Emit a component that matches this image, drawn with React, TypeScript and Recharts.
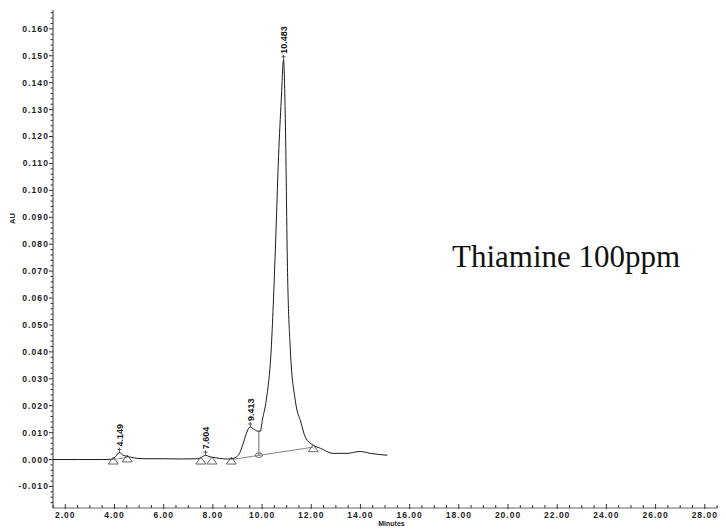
import React from 'react';
import { ComposedChart, Line, Scatter, XAxis, YAxis, Customized } from 'recharts';

// Chromatogram trace (minutes, AU)
const traceTimes = [1.5, 2.5, 3.5, 3.9, 4.05, 4.2, 4.35, 4.5, 4.8, 5.2, 6.0, 6.8, 7.4, 7.55, 7.7, 7.85, 8.0, 8.3, 8.6, 8.8, 8.95, 9.1, 9.25, 9.4, 9.52, 9.65, 9.8, 9.93, 10.01, 10.17, 10.37, 10.54, 10.67, 10.78, 10.874, 10.93, 10.97, 11.02, 11.15, 11.35, 11.59, 11.76, 12.08, 12.37, 12.89, 13.46, 13.99, 14.4, 15.09];
const traceAU = [0.0, 0.0, 0.0, 0.0001, 0.0012, 0.0026, 0.0016, 0.0012, 0.0006, 0.0003, 0.0003, 0.0002, 0.0003, 0.0009, 0.0016, 0.0011, 0.0008, 0.0004, 0.0002, 0.0004, 0.0009, 0.0026, 0.0065, 0.0106, 0.0121, 0.0114, 0.0106, 0.0105, 0.0146, 0.022, 0.0407, 0.0778, 0.1125, 0.1336, 0.1485, 0.1336, 0.1125, 0.0778, 0.0407, 0.022, 0.0135, 0.0083, 0.0053, 0.0042, 0.0023, 0.0023, 0.003, 0.0023, 0.0016];

// Integration baselines
const baseMainT = [8.75, 12.08];
const baseMainV = [0.0, 0.0046];
const baseSmallT = [3.95, 4.52];
const baseSmallV = [0.0, 0.0008];
const dropT = [9.87, 9.87];
const dropV = [0.0016, 0.0105];

// Markers
const triangleT = [3.95, 4.52, 7.51, 7.96, 8.75, 12.08];
const triangleV = [0.0, 0.0008, 0.0, 0.0, 0.0, 0.0046];
const circleT = [9.87];
const circleV = [0.0016];

// Peak labels
const peakT = [4.2, 7.7, 9.52, 10.874];
const peakV = [0.0026, 0.0016, 0.0121, 0.1485];
const peakLabels = ['4.149', '7.604', '9.413', '10.483'];

// Axis ticks
const yMajorTicks = [-0.01, 0.0, 0.01, 0.02, 0.03, 0.04, 0.05, 0.06, 0.07, 0.08, 0.09, 0.1, 0.11, 0.12, 0.13, 0.14, 0.15, 0.16];
const xMajorTicks = [2, 4, 6, 8, 10, 12, 14, 16, 18, 20, 22, 24, 26, 28];

const zip = (ts: number[], vs: number[]) => ts.map((t, i) => ({ t, v: vs[i] }));
const trace = zip(traceTimes, traceAU);
const baseMain = zip(baseMainT, baseMainV);
const baseSmall = zip(baseSmallT, baseSmallV);
const drop = zip(dropT, dropV);
const triangles = zip(triangleT, triangleV);
const circles = zip(circleT, circleV);
const peaks = peakT.map((t, i) => ({ t, v: peakV[i], label: peakLabels[i] }));

const yTicks: number[] = [];
for (let k = -16; k <= 166; k += 2) yTicks.push(Math.round(k) / 1000);
const xTicks: number[] = [];
for (let k = 3; k <= 57; k += 1) xTicks.push(k / 2);

const isYMajor = (v: number) => yMajorTicks.some((m) => Math.abs(m - v) < 1e-6);
const isXMajor = (v: number) => xMajorTicks.some((m) => Math.abs(m - v) < 1e-6);

const FONT = 'Liberation Sans, Arial, sans-serif';
const AXIS = '#333';

const YTick = (props: any) => {
  const { x, y, payload } = props;
  const v = payload.value as number;
  const major = isYMajor(v);
  return (
    <g>
      <line x1={x - (major ? 4 : 2.5)} x2={x} y1={y} y2={y} stroke={AXIS} strokeWidth={1} />
      {major && (
        <text x={x - 4} y={y} dy="0.35em" textAnchor="end" fontFamily={FONT} fontSize={8.5} fontWeight="bold" letterSpacing={1.1} fill="#222">
          {v.toFixed(3)}
        </text>
      )}
    </g>
  );
};

const XTick = (props: any) => {
  const { x, y, payload } = props;
  const v = payload.value as number;
  const major = isXMajor(v);
  return (
    <g>
      <line x1={x} x2={x} y1={y - (major ? 4 : 3)} y2={y + (major ? 1 : 0)} stroke={AXIS} strokeWidth={1} />
      {major && (
        <text x={x} y={y + 10} textAnchor="middle" fontFamily={FONT} fontSize={8.5} fontWeight="bold" letterSpacing={1.0} fill="#222">
          {v.toFixed(2)}
        </text>
      )}
    </g>
  );
};

const TriangleShape = (props: any) => {
  const { cx, cy } = props;
  return <path d={`M${cx},${cy - 2.5} L${cx + 5},${cy + 4.5} L${cx - 5},${cy + 4.5} Z`} fill="none" stroke="#555" strokeWidth={0.9} />;
};

const CircleShape = (props: any) => {
  const { cx, cy } = props;
  return <ellipse cx={cx} cy={cy} rx={3.5} ry={2.3} fill="none" stroke="#555" strokeWidth={0.9} />;
};

const PeakShape = (props: any) => {
  const { cx, cy, payload } = props;
  return (
    <g>
      <line x1={cx} x2={cx} y1={cy} y2={cy - 5} stroke="#333" strokeWidth={0.8} />
      <line x1={cx - 2} x2={cx + 2} y1={cy - 3} y2={cy - 3} stroke="#333" strokeWidth={0.8} />
      <text
        x={cx + 3.5}
        y={cy - 6}
        transform={`rotate(-90, ${cx + 3.5}, ${cy - 6})`}
        textAnchor="start"
        fontFamily={FONT}
        fontSize={9}
        fontWeight="bold"
        fill="#111"
      >
        {payload.label}
      </text>
    </g>
  );
};

const Annotations = () => (
  <g>
    <text x={444} y={259} fontFamily="Liberation Serif, Times New Roman, serif" fontSize={31} fill="#111">
      Thiamine 100ppm
    </text>
    <text x={4.5} y={210.5} transform="rotate(-90, 4.5, 210.5)" textAnchor="middle" dy="0.35em" fontFamily={FONT} fontSize={7.5} fontWeight="bold" fill="#222">
      AU
    </text>
    <text x={383.5} y={516} textAnchor="middle" dy="0.35em" fontFamily={FONT} fontSize={7} fontWeight="bold" fill="#222">
      Minutes
    </text>
  </g>
);

export default function App() {
  return (
    <div style={{ width: 718, height: 524, background: '#fff' }}>
      <ComposedChart width={718} height={524} margin={{ top: 2, right: 4, left: 0, bottom: 0 }}>
        <XAxis
          type="number"
          dataKey="t"
          domain={[1.5, 28.7]}
          allowDataOverflow
          ticks={xTicks}
          interval={0}
          tickSize={0}
          tickMargin={0}
          tickLine={false}
          tick={<XTick />}
          height={24}
          axisLine={{ stroke: '#666', strokeWidth: 1 }}
        />
        <YAxis
          type="number"
          dataKey="v"
          domain={[-0.018, 0.167]}
          allowDataOverflow
          ticks={yTicks}
          interval={0}
          tickSize={0}
          tickMargin={0}
          tickLine={false}
          tick={<YTick />}
          width={45}
          axisLine={{ stroke: AXIS, strokeWidth: 1 }}
        />
        <Line data={baseSmall} dataKey="v" type="linear" stroke="#777" strokeWidth={0.8} dot={false} isAnimationActive={false} />
        <Line data={baseMain} dataKey="v" type="linear" stroke="#666" strokeWidth={0.8} dot={false} isAnimationActive={false} />
        <Line data={drop} dataKey="v" type="linear" stroke="#444" strokeWidth={0.8} dot={false} isAnimationActive={false} />
        <Line data={trace} dataKey="v" type="monotone" stroke="#1a1a1a" strokeWidth={1} dot={false} isAnimationActive={false} />
        <Scatter data={triangles} dataKey="v" shape={<TriangleShape />} isAnimationActive={false} />
        <Scatter data={circles} dataKey="v" shape={<CircleShape />} isAnimationActive={false} />
        <Scatter data={peaks} dataKey="v" shape={<PeakShape />} isAnimationActive={false} />
        <Customized component={Annotations} />
      </ComposedChart>
    </div>
  );
}
